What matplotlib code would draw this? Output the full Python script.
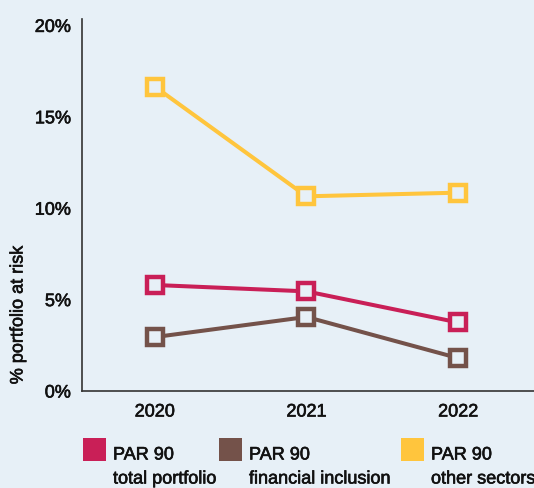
import matplotlib
matplotlib.use("Agg")
import matplotlib.pyplot as plt
from matplotlib.patches import Rectangle
import matplotlib.patheffects as pe

years = ["2020", "2021", "2022"]
total_portfolio = [5.8, 5.45, 3.75]
financial_inclusion = [2.95, 4.05, 1.8]
other_sectors = [16.65, 10.65, 10.85]
yticks = [0, 5, 10, 15, 20]
ytick_labels = ["0%", "5%", "10%", "15%", "20%"]
legend_titles = ["PAR 90", "PAR 90", "PAR 90"]
legend_subs = ["total portfolio", "financial inclusion", "other sectors"]

BG = "#E7F0F7"
RED = "#C91F57"
BROWN = "#74524A"
YELLOW = "#FFC53D"
TXT = "#111111"
colors = [RED, BROWN, YELLOW]
FONT = ["Liberation Sans", "DejaVu Sans"]
plt.rcParams["font.family"] = FONT
EFF = [pe.withStroke(linewidth=0.45, foreground=TXT)]

fig = plt.figure(figsize=(5.34, 4.88), dpi=100, facecolor=BG)
W, H = 534, 488
ax = fig.add_axes([82 / W, 1 - 391 / H, (534 - 82) / W, (391 - 19) / H])
ax.set_facecolor(BG)

x = list(range(len(years)))
for series, c in zip([other_sectors, total_portfolio, financial_inclusion], [YELLOW, RED, BROWN]):
    ax.plot(x, series, color=c, lw=2.9, marker="s", ms=12, mew=3.2,
            mfc=BG, mec=c, solid_joinstyle="miter", zorder=3)

ax.set_xlim(-0.48, 2.5)
ax.set_ylim(0, 20.35)
ax.set_xticks(x)
ax.set_xticklabels(years, fontsize=13, color=TXT)
ax.set_yticks(yticks)
ax.set_yticklabels(ytick_labels, fontsize=13, color=TXT)
for lab in ax.get_xticklabels() + ax.get_yticklabels():
    lab.set_path_effects(EFF)
ax.tick_params(length=0, pad=9)
ax.tick_params(axis="y", pad=8)
for s in ["top", "right"]:
    ax.spines[s].set_visible(False)
for s in ["left", "bottom"]:
    ax.spines[s].set_color("#333333")
    ax.spines[s].set_linewidth(1.2)

fig.text(18 / W, 1 - 315 / H, "% portfolio at risk", rotation=90, ha="center",
         va="center", fontsize=13, color=TXT, path_effects=EFF)

legend_x = [83, 219, 401]
for lx, c, t, s in zip(legend_x, colors, legend_titles, legend_subs):
    fig.patches.append(Rectangle((lx / W, 1 - 461 / H), 23 / W, 23 / H,
                                 transform=fig.transFigure, facecolor=c,
                                 edgecolor="none"))
    fig.text((lx + 30) / W, 1 - 455 / H, t, fontsize=13, va="center", ha="left",
             color=TXT, path_effects=EFF)
    fig.text((lx + 30) / W, 1 - 479 / H, s, fontsize=13, va="center", ha="left",
             color=TXT, path_effects=EFF)

fig.savefig("out.png", dpi=100, facecolor=BG)
